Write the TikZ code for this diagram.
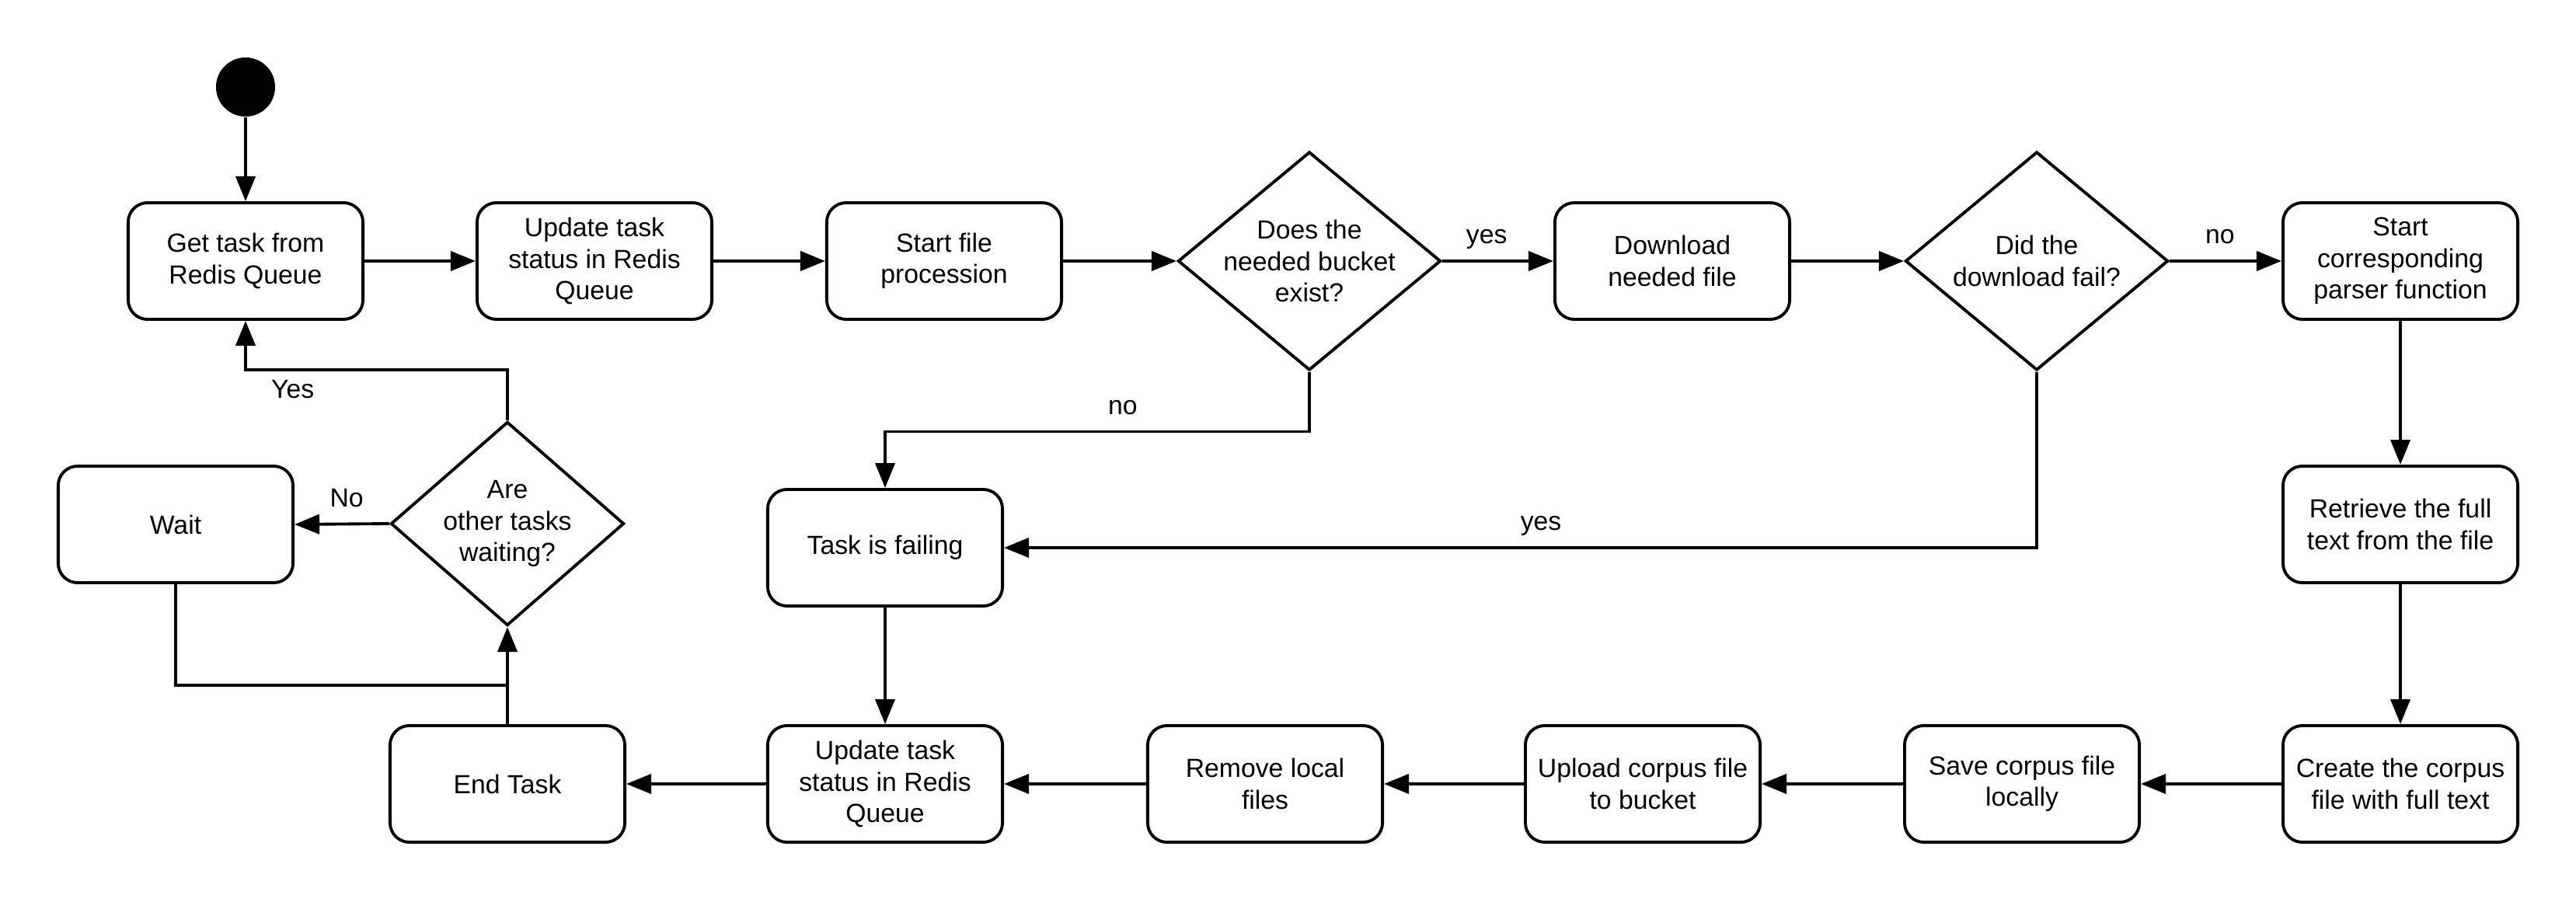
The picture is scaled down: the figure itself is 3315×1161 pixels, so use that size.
\documentclass[tikz,border=0pt]{standalone}
\usepackage{fontspec}
\setmainfont{Liberation Sans}
\usetikzlibrary{arrows.meta,shapes.geometric}

\tikzset{
    activity/.style={draw, line width=1.1pt, rounded corners=0.25cm, minimum width=3.02cm,
        minimum height=1.5cm, align=center, inner sep=2pt},
    decision/.style={draw, diamond, line width=1.1pt, aspect=1.2, inner sep=-0.1cm,
        minimum width=3.38cm, minimum height=2.81cm, align=center},
    flow/.style={line width=1.1pt, -{Triangle[length=3.2mm,width=2.5mm]}},
    link/.style={line width=1.1pt},
    answer/.style={text height=1.6ex, text depth=0.45ex},
    every node/.style={font=\fontsize{9.6}{11.5}\selectfont},
}

\begin{document}
\begin{tikzpicture}[x=0.01cm, y=-0.01cm]
    \useasboundingbox (0,0) rectangle (3315,1161);
    \node[circle, fill=black, minimum size=0.76cm, inner sep=0pt] (start) at (316,112) {};
    \node[activity] (get) at (316,336) {Get task from\\Redis Queue};
    \node[activity] (upd) at (765,336) {Update task\\status in Redis\\Queue};
    \node[activity] (proc) at (1215,336) {Start file\\procession};
    \node[decision] (bucket) at (1685,336) {Does the\\needed bucket\\exist?};
    \node[activity] (down) at (2152,336) {Download\\needed file};
    \node[decision] (fails) at (2621,336) {Did the\\download fail?};
    \node[activity] (parse) at (3089,336) {Start\\corresponding\\parser function};
    \node[activity] (retr) at (3089,675) {Retrieve the full\\text from the file};
    \node[activity] (create) at (3089,1009) {Create the corpus\\file with full text};
    \node[activity] (save) at (2602,1009) {Save corpus file\\locally};
    \node[activity] (upload) at (2114,1009) {Upload corpus file\\to bucket};
    \node[activity] (remove) at (1628,1009) {Remove local\\files};
    \node[activity] (upd2) at (1139,1009) {Update task\\status in Redis\\Queue};
    \node[activity] (endtask) at (653,1009) {End Task};
    \node[activity] (fail) at (1139,705) {Task is failing};
    \node[activity] (wait) at (226,675) {Wait};
    \node[decision, aspect=1.145, minimum width=3cm, minimum height=2.62cm] (others) at (653,674)
        {Are\\other tasks\\waiting?};
    \coordinate (join) at (653,882);

    \foreach \a/\b in {start/get, get/upd, upd/proc, proc/bucket, down/fails, parse/retr, retr/create,
        create/save, save/upload, upload/remove, remove/upd2, upd2/endtask, fail/upd2}
        \draw[flow] (\a) -- (\b);
    \draw[flow] (bucket) -- node[answer, above, pos=0.4] {yes} (down);
    \draw[flow] (fails) -- node[answer, above, pos=0.45] {no} (parse);
    \draw[flow] (bucket.south) -- ++(0,77) -| node[answer, above, pos=0.22] {no} (fail.north);
    \draw[flow] (fails.south) |- node[answer, above, pos=0.74] {yes} (fail.east);
    \draw[flow] (endtask.north) -- (others.south);
    \draw[flow] (others.west) -- node[answer, above, pos=0.45] {No} (wait.east);
    \draw[flow] (others.north) -- ++(0,-65) -| node[below, pos=0.41] {Yes} (get.south);
    \draw[link] (wait.south) |- (join);
\end{tikzpicture}
\end{document}
